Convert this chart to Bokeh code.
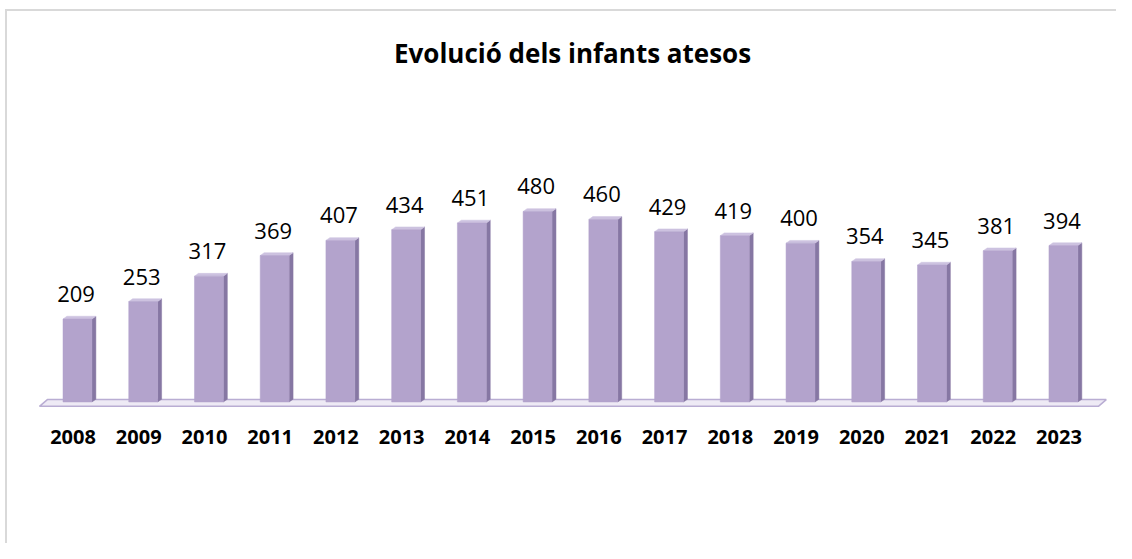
from bokeh.plotting import figure
from bokeh.models import FixedTicker, Range1d, Label, ColumnDataSource
from bokeh.embed import file_html
from bokeh.resources import INLINE
from bokeh.core.properties import value

# ---- data ----
title_text = "Evolució dels infants atesos"
years = [2008, 2009, 2010, 2011, 2012, 2013, 2014, 2015,
         2016, 2017, 2018, 2019, 2020, 2021, 2022, 2023]
year_labels = ["2008", "2009", "2010", "2011", "2012", "2013", "2014", "2015",
               "2016", "2017", "2018", "2019", "2020", "2021", "2022", "2023"]
infants = [209, 253, 317, 369, 407, 434, 451, 480,
           460, 429, 419, 400, 354, 345, 381, 394]

# ---- styling / geometry ----
FONT = "Open Sans"
FRONT = "#b3a3cc"
SIDE = "#8677a3"
TOP = "#cdc2e0"
BAR_W = 0.44
SHIFT = 0.068
DX = 0.06
DY = 7.0

W, H = 1116, 543
FRAME_H = 412
Y0 = -26.45
Y1 = Y0 + FRAME_H / 0.397
X0 = 2006.897
X1 = X0 + W / 65.73

p = figure(width=W, height=H, output_backend="svg", toolbar_location=None,
           x_range=Range1d(X0, X1), y_range=Range1d(Y0, Y1),
           y_axis_location=None, min_border_left=0, min_border_right=0,
           min_border_top=0, min_border_bottom=H - FRAME_H)
# light grey chart-area border (top + left), drawn behind a transparent canvas
p.styles = {"background": (
    "linear-gradient(#d9d9d9,#d9d9d9) 5px 9px / 2px calc(100% - 9px) no-repeat, "
    "linear-gradient(#d9d9d9,#d9d9d9) 5px 9px / calc(100% - 5px) 2px no-repeat, "
    "#ffffff")}
p.outline_line_color = None
p.xgrid.visible = False
p.ygrid.visible = False
p.background_fill_color = None
p.border_fill_color = None

# floor
fx0 = years[0] - 0.51
fx1 = years[-1] + 0.60
p.patch([fx0, fx1, fx1 + 0.12, fx0 + 0.12], [-11, -11, 6, 6],
        fill_color="#eeeaf5", line_color="#b9add3", line_width=1.5)

lefts = [y + SHIFT - BAR_W / 2 for y in years]
rights = [y + SHIFT + BAR_W / 2 for y in years]
src = ColumnDataSource(dict(x=years, v=infants, left=lefts, right=rights,
                            bottom=[0] * len(years),
                            lab=[str(v) for v in infants]))

# side faces
side_xs = [[r, r + DX, r + DX, r] for r in rights]
side_ys = [[0, DY, v + DY, v] for v in infants]
p.patches(side_xs, side_ys, fill_color=SIDE, line_color=SIDE, line_width=0.5)
# top faces
top_xs = [[l, r, r + DX, l + DX] for l, r in zip(lefts, rights)]
top_ys = [[v, v, v + DY, v + DY] for v in infants]
p.patches(top_xs, top_ys, fill_color=TOP, line_color=TOP, line_width=0.5)
# front faces
p.quad(left="left", right="right", bottom="bottom", top="v", source=src,
       fill_color=FRONT, line_color=FRONT, line_width=0.5)

# value labels
p.text(x="x", y="v", text="lab", source=src, x_offset=3, y_offset=-25,
       text_align="center", text_baseline="alphabetic",
       text_font=value(FONT), text_font_size="22px", text_color="#000000")

# title
p.add_layout(Label(x=(years[0] + years[-1]) / 2 + 0.1, y=878.0, text=title_text,
                   text_align="center", text_baseline="alphabetic",
                   text_font=FONT, text_font_style="bold",
                   text_font_size="26px", text_color="#000000"))

# x axis
ax = p.xaxis[0]
ax.ticker = FixedTicker(ticks=years)
ax.major_label_overrides = {y: s for y, s in zip(years, year_labels)}
ax.axis_line_color = None
ax.major_tick_line_color = None
ax.minor_tick_line_color = None
ax.major_tick_out = 0
ax.major_tick_in = 0
ax.major_label_standoff = 17
ax.major_label_text_font = FONT
ax.major_label_text_font_style = "bold"
ax.major_label_text_font_size = "20px"
ax.major_label_text_color = "#000000"

open("out.html", "w").write(file_html(p, INLINE))
